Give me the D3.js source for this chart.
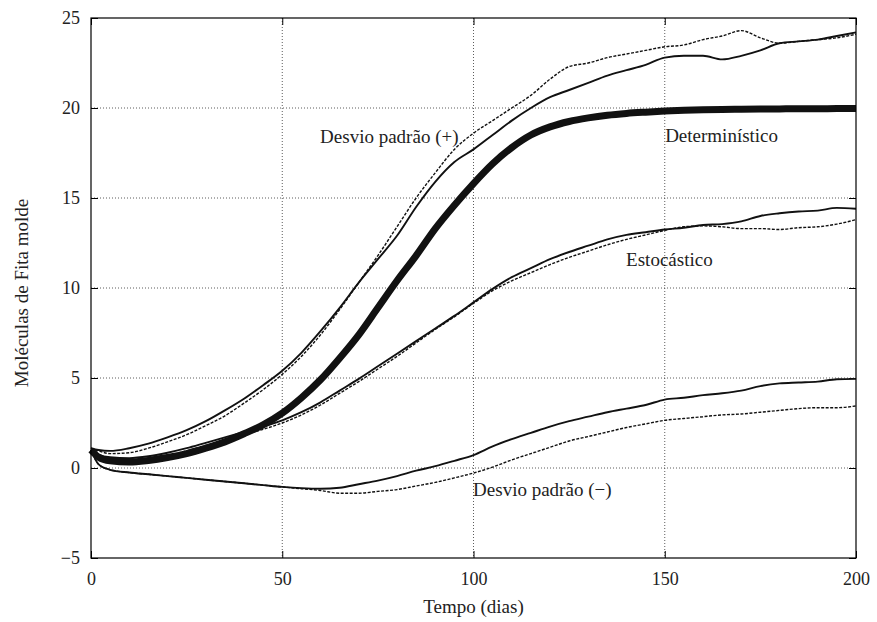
<!DOCTYPE html>
<html>
<head>
<meta charset="utf-8">
<script src="https://cdn.jsdelivr.net/npm/d3@7"></script>
<style>
  body { margin: 0; background: #fff; }
  svg text { font-family: "Liberation Serif", "DejaVu Serif", serif !important; }
</style>
</head>
<body>
<div id="chart"></div>
<script>
const serif = "Liberation Serif";

// time points (dias)
const days = [0, 2, 5, 10, 15, 20, 25, 30, 35, 40, 45, 50, 55, 60, 65, 70, 75, 80, 85, 90, 95, 100,
  105, 110, 115, 120, 125, 130, 135, 140, 145, 150, 155, 160, 165, 170, 175, 180, 185, 190, 195, 200];

// deterministic model
const deterministico = [1.0, 0.6, 0.4, 0.33, 0.42, 0.58, 0.8, 1.1, 1.45, 1.9, 2.4, 3.05, 3.9, 4.9, 6.1, 7.4, 8.9, 10.4, 11.8, 13.3, 14.6, 15.8,
  16.9, 17.8, 18.5, 18.95, 19.25, 19.45, 19.6, 19.7, 19.77, 19.83, 19.87, 19.9, 19.92, 19.93, 19.94, 19.95, 19.96, 19.96, 19.97, 19.97];

// stochastic mean (two runs)
const estocasticoA = [1.0, 0.75, 0.6, 0.55, 0.65, 0.85, 1.1, 1.4, 1.7, 2.0, 2.3, 2.65, 3.1, 3.65, 4.3, 4.95, 5.65, 6.35, 7.05, 7.75, 8.45, 9.2,
  9.95, 10.6, 11.1, 11.6, 12.0, 12.35, 12.7, 12.95, 13.1, 13.25, 13.35, 13.5, 13.55, 13.7, 14.0, 14.15, 14.25, 14.3, 14.45, 14.4];
const estocasticoB = [1.0, 0.7, 0.5, 0.45, 0.5, 0.7, 0.95, 1.25, 1.55, 1.85, 2.15, 2.5, 2.95, 3.5, 4.15, 4.8, 5.5, 6.2, 6.95, 7.7, 8.4, 9.15,
  9.85, 10.4, 10.85, 11.3, 11.7, 12.05, 12.4, 12.7, 12.95, 13.2, 13.4, 13.45, 13.4, 13.3, 13.3, 13.25, 13.35, 13.4, 13.55, 13.8];

// mean + std dev
const desvioMaisA = [1.1, 1.0, 0.95, 1.1, 1.35, 1.7, 2.1, 2.6, 3.2, 3.85, 4.6, 5.4, 6.4, 7.6, 8.9, 10.3, 11.6, 12.9, 14.5, 15.9, 17.0, 17.7,
  18.5, 19.3, 20.0, 20.6, 21.0, 21.4, 21.8, 22.1, 22.4, 22.8, 22.9, 22.9, 22.7, 22.9, 23.2, 23.6, 23.7, 23.8, 24.0, 24.2];
const desvioMaisB = [1.1, 0.95, 0.8, 0.85, 1.1, 1.45, 1.85, 2.35, 2.9, 3.6, 4.35, 5.2, 6.2, 7.4, 8.8, 10.3, 11.8, 13.4, 15.0, 16.4, 17.7, 18.6,
  19.3, 20.0, 20.7, 21.6, 22.3, 22.5, 22.8, 23.0, 23.2, 23.4, 23.5, 23.8, 24.0, 24.3, 23.9, 23.6, 23.7, 23.8, 23.9, 24.1];

// mean - std dev
const desvioMenosA = [1.0, 0.2, -0.1, -0.25, -0.35, -0.45, -0.55, -0.65, -0.75, -0.85, -0.95, -1.05, -1.12, -1.15, -1.1, -0.9, -0.7, -0.45, -0.15, 0.1, 0.4, 0.72,
  1.2, 1.6, 1.95, 2.3, 2.6, 2.85, 3.1, 3.3, 3.5, 3.8, 3.9, 4.05, 4.15, 4.3, 4.55, 4.7, 4.75, 4.8, 4.93, 4.95];
const desvioMenosB = [1.0, 0.2, -0.1, -0.25, -0.35, -0.45, -0.55, -0.65, -0.75, -0.85, -0.95, -1.05, -1.15, -1.25, -1.4, -1.4, -1.3, -1.2, -1.0, -0.8, -0.55, -0.28,
  0.05, 0.45, 0.8, 1.15, 1.5, 1.75, 2.0, 2.25, 2.45, 2.65, 2.75, 2.85, 2.95, 3.0, 3.1, 3.2, 3.3, 3.35, 3.35, 3.45];

const xTicks = [0, 50, 100, 150, 200];
const yTicks = [-5, 0, 5, 10, 15, 20, 25];

const margin = {top: 18, right: 21, bottom: 64, left: 91},
    width = 877 - margin.left - margin.right,
    height = 622 - margin.top - margin.bottom;

const svg = d3.select("#chart")
  .append("svg")
    .attr("width", 877)
    .attr("height", 622)
  .append("g")
    .attr("transform", `translate(${margin.left}, ${margin.top})`);

const x = d3.scaleLinear().domain([0, 200]).range([0, width]);
const y = d3.scaleLinear().domain([-5, 25]).range([height, 0]);

// dotted grid
svg.append("g").selectAll("line")
  .data(xTicks.slice(1, -1))
  .join("line")
    .attr("x1", d => x(d)).attr("x2", d => x(d))
    .attr("y1", 0).attr("y2", height)
    .attr("stroke", "#333").attr("stroke-width", 0.8)
    .attr("stroke-dasharray", "1,2");
svg.append("g").selectAll("line")
  .data(yTicks.slice(1, -1))
  .join("line")
    .attr("x1", 0).attr("x2", width)
    .attr("y1", d => y(d)).attr("y2", d => y(d))
    .attr("stroke", "#333").attr("stroke-width", 0.8)
    .attr("stroke-dasharray", "1,2");

// axes with inner ticks
const axisStyle = g => {
  g.attr("font-family", serif).attr("font-size", 18);
  g.select(".domain").remove();
  g.selectAll(".tick line").attr("stroke", "#000").attr("stroke-width", 1);
  g.selectAll("text").attr("fill", "#222");
};
svg.append("g")
  .attr("transform", `translate(0, ${height})`)
  .call(d3.axisBottom(x).tickValues(xTicks).tickSizeInner(-7).tickPadding(14).tickFormat(d3.format("d")))
  .call(axisStyle);
svg.append("g")
  .call(d3.axisLeft(y).tickValues(yTicks).tickSizeInner(-7).tickPadding(11).tickFormat(d => d < 0 ? "\u2212" + Math.abs(d) : d))
  .call(axisStyle);
svg.append("g")
  .call(d3.axisTop(x).tickValues(xTicks).tickSizeInner(-7).tickFormat(""))
  .call(axisStyle);
svg.append("g")
  .attr("transform", `translate(${width}, 0)`)
  .call(d3.axisRight(y).tickValues(yTicks).tickSizeInner(-7).tickFormat(""))
  .call(axisStyle);

// series
const line = d3.line()
  .x((d, i) => x(days[i]))
  .y(d => y(d))
  .curve(d3.curveMonotoneX);

const series = [
  {values: desvioMaisB, width: 1.4, dash: "3,1.5"},
  {values: desvioMaisA, width: 1.9, dash: null},
  {values: estocasticoB, width: 1.4, dash: "3,1.5"},
  {values: estocasticoA, width: 1.9, dash: null},
  {values: desvioMenosB, width: 1.4, dash: "3,1.5"},
  {values: desvioMenosA, width: 1.9, dash: null},
  {values: deterministico, width: 7, dash: null}
];

svg.append("g").selectAll("path")
  .data(series)
  .join("path")
    .attr("d", d => line(d.values))
    .attr("fill", "none")
    .attr("stroke", "#111")
    .attr("stroke-width", d => d.width)
    .attr("stroke-dasharray", d => d.dash);

// frame
svg.append("rect")
  .attr("width", width).attr("height", height)
  .attr("fill", "none").attr("stroke", "#000").attr("stroke-width", 1.2);

// curve labels
const labels = [
  {text: "Desvio padrão (+)", t: 59.9, v: 18.05},
  {text: "Determinístico", t: 150.1, v: 18.1},
  {text: "Estocástico", t: 139.9, v: 11.2},
  {text: "Desvio padrão (\u2212)", t: 99.9, v: -1.55}
];
svg.append("g").selectAll("text")
  .data(labels)
  .join("text")
    .attr("x", d => x(d.t))
    .attr("y", d => y(d.v))
    .attr("font-size", 19)
    .attr("fill", "#222")
    .text(d => d.text);

// axis titles
svg.append("text")
  .attr("x", width / 2)
  .attr("y", height + 55)
  .attr("text-anchor", "middle")
  .attr("font-size", 19)
  .attr("fill", "#222")
  .text("Tempo (dias)");

svg.append("text")
  .attr("transform", `translate(${-63}, ${275}) rotate(-90)`)
  .attr("text-anchor", "middle")
  .attr("font-size", 19)
  .attr("fill", "#222")
  .text("Moléculas de Fita molde");
</script>
</body>
</html>
